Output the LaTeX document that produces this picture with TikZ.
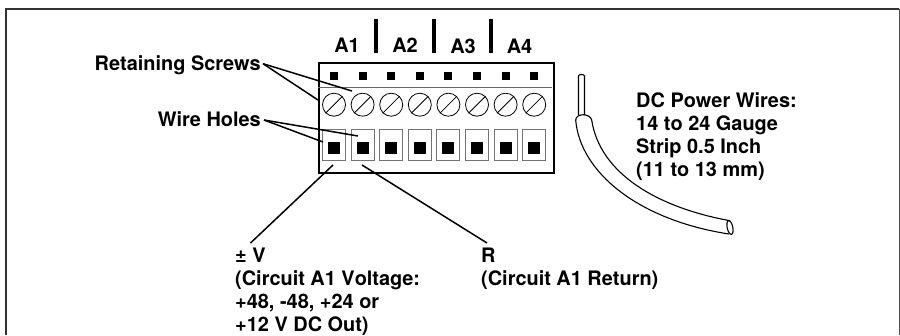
\documentclass[tikz,border=0pt]{standalone}
\usepackage{fontspec}
\setmainfont[Kerning=Off]{TeX Gyre Heros}
\begin{document}
\begin{tikzpicture}[x=1bp,y=-1bp,
  lab/.style={inner sep=0pt,font=\fontsize{20}{23.3}\selectfont\bfseries,align=left,text=black},
  leader/.style={draw=black,line width=1.5bp},
  divider/.style={draw=black,line width=3.8bp},
  screw/.style={circle,draw=black,line width=0.8bp,minimum size=23bp,inner sep=0pt},
  pin/.style={fill=black,draw=none,minimum size=8bp,inner sep=0pt},
  hole/.style={draw=black!55,line width=1bp,minimum width=23bp,minimum height=31bp,inner sep=0pt,fill=white},
  holecore/.style={fill=black,draw=none,minimum size=12bp,inner sep=0pt},
  wire/.style={draw=black,line width=1.1bp}]
\useasboundingbox (0,0) rectangle (900,335);
\fill[white] (0,0) rectangle (900,335);
% frame
\draw[black!80,line width=2bp] (6,335) -- (6,8.5) -- (899,8.5) ;
\draw[black!70,line width=1.2bp] (899.3,8.5) -- (899.3,335);
% block
\node[draw=black,line width=2bp,minimum width=235bp,minimum height=110bp,inner sep=0pt,anchor=north west] (block) at (317.5,62) {};
\coordinate (railL) at (318,87);
\coordinate (railR) at (552,87);
\draw[black!60,line width=1bp] (railL) -- (railR);
\foreach \i in {1,...,8}{
  \pgfmathsetmacro{\cx}{334+28.6*(\i-1)}
  \node[pin] (p\i) at (\cx,76) {};
  \node[screw] (s\i) at (\cx,104.7) {};
  \draw[black,line width=0.8bp] (s\i.225) -- (s\i.45);
  \node[hole] (h\i) at (\cx,144.8) {};
  \node[holecore] (c\i) at (\cx,147.7) {};
}
% dividers
\coordinate (d1t) at (376.3,19); \coordinate (d1b) at (376.3,52.5);
\coordinate (d2t) at (434,19); \coordinate (d2b) at (434,52.5);
\coordinate (d3t) at (491.3,19); \coordinate (d3b) at (491.3,52.5);
\draw[divider] (d1t) -- (d1b);
\draw[divider] (d2t) -- (d2b);
\draw[divider] (d3t) -- (d3b);
\node[lab] (a1) at (347,44.8) {A1};
\node[lab] (a2) at (405,44.8) {A2};
\node[lab] (a3) at (463,46.1) {A3};
\node[lab] (a4) at (519.5,46.1) {A4};
% labels
\node[lab,anchor=east] (screws) at (261,65.7) {Retaining Screws};
\node[lab,anchor=east] (holes) at (261,119) {Wire Holes};
\node[lab,anchor=north west] (volt) at (235,247.6) {± V\\(Circuit A1 Voltage:\\+48, -48, +24 or\\+12 V DC Out)};
\node[lab,anchor=north west] (ret) at (481,247.6) {R\\(Circuit A1 Return)};
\node[lab,anchor=north west] (dc) at (636,92.3) {DC Power Wires:\\14 to 24 Gauge\\Strip 0.5 Inch\\(11 to 13 mm)};
% leader ends
\coordinate (e1) at (352,91);
\coordinate (e2) at (318,100);
\coordinate (e3) at (358,136);
\coordinate (e4) at (323,142);
\coordinate (e5) at (333,165);
\coordinate (e6) at (362,165);
\coordinate (e7) at (250.5,243);
\coordinate (e8) at (487,243);
\coordinate (s0) at ([xshift=2bp,yshift=2bp]screws.east);
\coordinate (h0) at ([xshift=3bp,yshift=-1bp]holes.east);
\draw[leader] (s0) -- (e1);
\draw[leader] (s0) -- (e2);
\draw[leader] (h0) -- (e3);
\draw[leader] (h0) -- (e4);
\draw[leader] (e7) -- (e5);
\draw[leader] (e8) -- (e6);
% wire
\draw[wire] (578.5,115) -- (578.5,76) .. controls (578.5,74) and (584.5,74) .. (584.5,76) -- (584.5,115);
\draw[wire,line join=round] (730,220.7) .. controls (660,208) and (600,175) .. (591.7,120)
  .. controls (590,113) and (576,113) .. (575.7,120)
  .. controls (580,172) and (638,220) .. (729,234);
\draw[wire,rotate around={12:(730,227.5)}] (730,227.5) ellipse (2.8 and 7);
\end{tikzpicture}
\end{document}
